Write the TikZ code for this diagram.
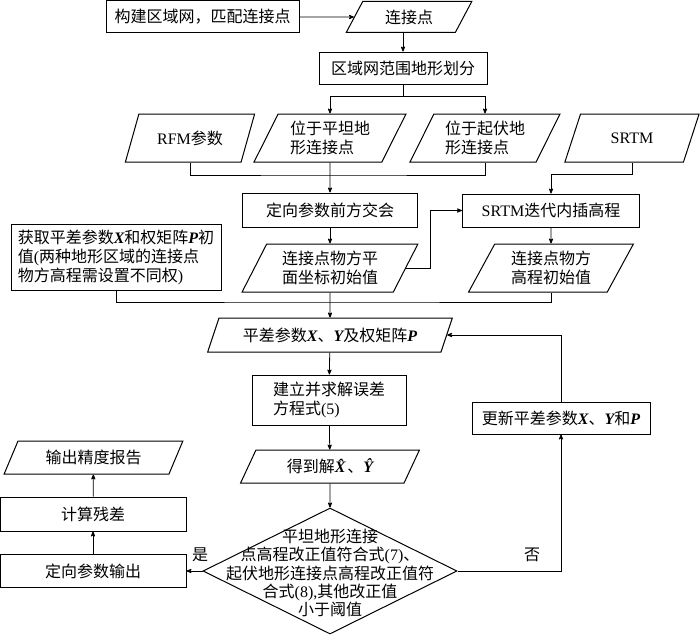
\documentclass[tikz,border=0pt]{standalone}
\usepackage{fontspec}
\setmainfont{Noto Sans CJK SC}
\newfontfamily\lat{Liberation Serif}
\newcommand{\bi}[1]{{\lat\bfseries\itshape #1}}
\usetikzlibrary{arrows,shapes.geometric}

\begin{document}
\begin{tikzpicture}[x=1pt,y=-1pt,>=stealth',line width=0.8pt,font=\fontsize{16}{19}\selectfont]
  \tikzset{box/.style={draw,line width=1pt,inner sep=2pt},
    io/.style={draw,line width=1pt,trapezium,trapezium left angle=62,trapezium right angle=118,
      trapezium stretches=true,inner sep=1pt},
    decision/.style={draw,line width=1pt,diamond,inner sep=0pt}}
  \useasboundingbox (0,0) rectangle (700,634);
  % input and partition
  \node[box,minimum width=193pt,minimum height=32pt] (build) at (202.5,17) {构建区域网，匹配连接点};
  \node[io,minimum width=126pt,minimum height=31pt] (tie) at (409,17) {连接点};
  \node[box,minimum width=168pt,minimum height=32pt] (divide) at (403,68) {区域网范围地形划分};
  \node[io,minimum width=130pt,minimum height=48pt] (rfm) at (190,138) {{\lat RFM}参数};
  \node[io,minimum width=152pt,minimum height=48pt,align=left] (flat) at (330,138) {位于平坦地\\形连接点};
  \node[io,minimum width=150pt,minimum height=48pt,align=left] (rough) at (485,138) {位于起伏地\\形连接点};
  \node[io,minimum width=135pt,minimum height=48pt] (srtm) at (632,138) {\lat SRTM};
  % initial values
  \node[box,minimum width=175pt,minimum height=34pt] (inter) at (330,210) {定向参数前方交会};
  \node[box,minimum width=177pt,minimum height=33pt] (srtmint) at (551,210.5) {{\lat SRTM}迭代内插高程};
  \node[io,minimum width=176pt,minimum height=48pt,align=left] (plane) at (330,268) {连接点物方平\\面坐标初始值};
  \node[io,minimum width=165pt,minimum height=48pt,align=left] (height) at (551,268) {连接点物方\\高程初始值};
  \node[box,minimum width=210pt,minimum height=66pt,align=left] (init) at (116,257)
    {获取平差参数\bi{X}和权矩阵\bi{P}初\\值{\lat(}两种地形区域的连接点\\物方高程需设置不同权{\lat)}};
  % adjustment loop
  \node[io,minimum width=245pt,minimum height=34pt] (adj) at (330,335) {平差参数\bi{X}、\bi{Y}及权矩阵\bi{P}};
  \node[box,minimum width=154pt,minimum height=50pt,align=left] (solve) at (329,400) {建立并求解误差\\方程式{\lat(5)}};
  \node[io,minimum width=179pt,minimum height=33pt] (sol) at (330,466.5) {得到解\bi{\^X}\kern2pt、\bi{\^Y}};
  \node[decision,minimum width=254pt,minimum height=126pt] (check) at (330,571) {};
  \node[align=center,inner sep=0pt,font=\fontsize{16}{18.3}\selectfont] (checktext) at (330,573)
    {平坦地形连接\\点高程改正值符合式{\lat(7)}、\\起伏地形连接点高程改正值符\\合式{\lat(8),}其他改正值\\小于阈值};
  \node[box,minimum width=178pt,minimum height=32pt] (update) at (561,418) {更新平差参数\bi{X}、\bi{Y}和\bi{P}};
  % output
  \node[box,minimum width=186pt,minimum height=33pt] (out) at (93,571) {定向参数输出};
  \node[box,minimum width=186pt,minimum height=34pt] (resid) at (93,514) {计算残差};
  \node[io,minimum width=179pt,minimum height=33pt] (report) at (93.5,457.5) {输出精度报告};
  \coordinate (jointop) at (330,175);
  \coordinate (joinmid) at (330,302);
  \path[->] (build) edge (tie);
  \draw[->] (tie.south -| divide.north) -- (divide.north);
  \draw[->] (divide.south) -- ++(0,12) -| (flat.north);
  \draw[->] (divide.south) -- ++(0,12) -| (rough.north);
  \draw (rfm.south) |- (jointop) -| (rough.south);
  \draw[->] (flat.south) -- (inter.north);
  \draw[->] (srtm.south) -- ++(0,12) -| (srtmint.north);
  \path[->] (inter) edge (plane);
  \path[->] (srtmint) edge (height);
  \draw[->] (plane.east) -- ++(24,0) |- (srtmint.west);
  \draw (init.south) |- (joinmid) -| (height.south);
  \draw[->] (plane.south) -- (adj.north);
  \path[->] (adj) edge (solve);
  \path[->] (solve) edge (sol);
  \path[->] (sol) edge (check);
  \draw[->] (check.west) -- node[pos=0.15,above=5pt] (yes) {是} (out.east);
  \draw[->] (check.east) -| node[pos=0.36,above=5pt] (no) {否} (update.south);
  \draw[->] (update.north) |- (adj.east);
  \path[->] (out) edge (resid);
  \path[->] (resid) edge (report);
\end{tikzpicture}
\end{document}
